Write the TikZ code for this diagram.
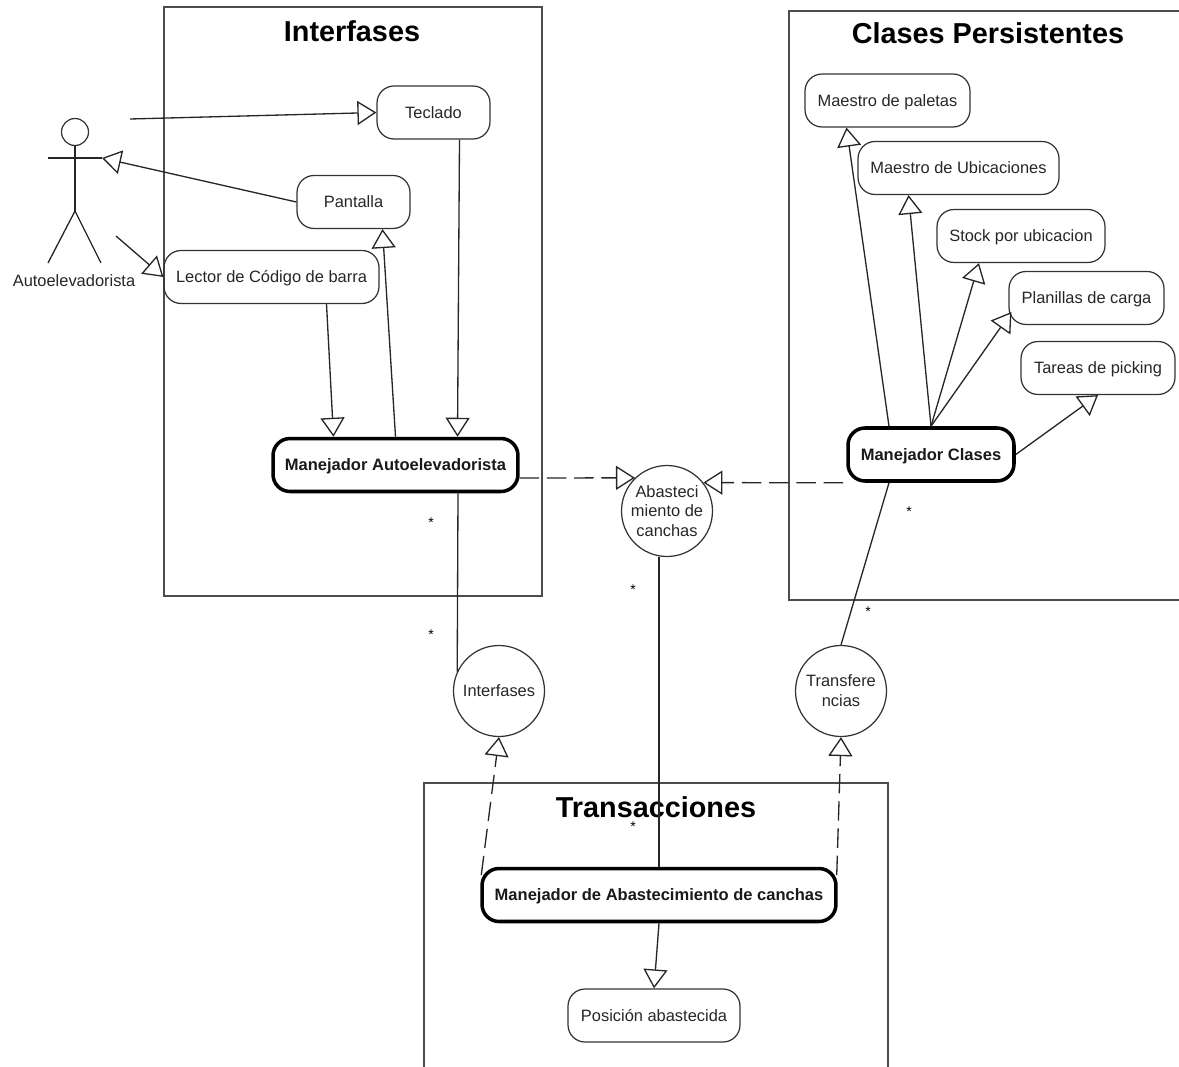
\documentclass[tikz,border=0pt]{standalone}
\usepackage{fontspec}
\setmainfont{Liberation Sans}
\usetikzlibrary{shapes,arrows.meta,positioning,calc}

\tikzset{
  caso/.style={rectangle, draw=black!80, rounded corners=0.34cm, line width=0.7pt, minimum height=1.06cm, inner sep=0pt, text height=6.7pt, text depth=0pt, font=\fontsize{9.35}{11.3}\selectfont, text=black!85},
  manejador/.style={caso, line width=2pt, draw=black, font=\fontsize{9.4}{11}\selectfont\bfseries, text=black!90},
  ciclo/.style={circle, draw=black!80, line width=0.7pt, minimum size=1.82cm, inner sep=0pt, align=center, font=\fontsize{9.35}{11.3}\selectfont, text=black!85},
  titulo/.style={font=\fontsize{16.4}{18}\selectfont\bfseries},
  marco/.style={draw=black!70, line width=1.1pt},
  linea/.style={draw=black!85, line width=0.75pt},
  gen/.style={linea, -{Triangle[length=0.38cm, width=0.48cm, fill=white]}},
  dep/.style={gen, dash pattern=on 11pt off 4.5pt},
  estrella/.style={font=\fontsize{8}{8}\selectfont, inner sep=0pt}
}

\begin{document}
\begin{tikzpicture}[x=0.02cm, y=-0.02cm]
\path[use as bounding box, clip] (0,0) rectangle (1179,1067);

\draw[marco] (164,7) rectangle (542,596);
\draw[marco] (789,11) rectangle (1200,600);
\draw[marco] (424,783) rectangle (888,1100);
\node[titulo] (tInterfases) at (352,31) {Interfases};
\node[titulo] (tClases) at (988,33) {Clases Persistentes};
\node[titulo] (tTrans) at (656,807) {Transacciones};

\node[circle, draw=black!80, line width=0.7pt, minimum size=0.54cm, inner sep=0pt] (cabeza) at (75,132) {};
\coordinate (cadera) at (75,211);
\coordinate (manoI) at (48,158);
\coordinate (manoD) at (102,158);
\coordinate (pieI) at (48,263);
\coordinate (pieD) at (101,263);
\coordinate (actorA) at (130,119);
\coordinate (actorB) at (116,236);
\draw[linea] (cabeza) -- (cadera);
\draw[linea] (manoI) -- (manoD);
\draw[linea] (pieI) -- (cadera) -- (pieD);
\node[font=\fontsize{9.35}{11.3}\selectfont, text=black!85] (actor) at (74,281) {Autoelevadorista};

\node[caso, minimum width=2.26cm] (teclado) at (433.5,112.5) {Teclado};
\node[caso, minimum width=2.26cm] (pantalla) at (353.5,202) {Pantalla};
\node[caso, minimum width=4.3cm] (lector) at (271.5,277) {Lector de Código de barra};
\node[manejador, minimum width=4.9cm] (manAuto) at (395.5,465) {Manejador Autoelevadorista};

\node[caso, minimum width=3.3cm] (paletas) at (887.5,100.5) {Maestro de paletas};
\node[caso, minimum width=4.02cm] (ubicaciones) at (958.5,168) {Maestro de Ubicaciones};
\node[caso, minimum width=3.36cm] (stock) at (1021,236) {Stock por ubicacion};
\node[caso, minimum width=3.1cm] (planillas) at (1086.5,298) {Planillas de carga};
\node[caso, minimum width=3.08cm] (tareas) at (1098,368) {Tareas de picking};
\node[manejador, minimum width=3.32cm] (manClases) at (931,454.5) {Manejador Clases};

\node[manejador, minimum width=7.08cm] (manAbast) at (659,895) {Manejador de Abastecimiento de canchas};
\node[caso, minimum width=3.44cm] (posicion) at (654,1015.5) {Posición abastecida};

\node[ciclo] (abast) at (667,511) {Abasteci\\miento de\\canchas};
\node[ciclo] (cInterfases) at (499,691) {Interfases};
\node[ciclo] (cTransf) at (841,691) {Transfere\\ncias};

\draw[gen] (actorA) -- (teclado.west);
\draw[gen] (pantalla.west) -- (manoD);
\draw[gen] (actorB) -- (lector.west);
\draw[gen] ($(lector.south)+(55,0)$) -- ($(manAuto.north)+(-62,0)$);
\draw[gen] (manAuto.north) -- ($(pantalla.south)+(29,0)$);
\draw[gen] ($(teclado.south)+(26,0)$) -- ($(manAuto.north)+(62,0)$);

\draw[gen] ($(manClases.north)+(-42,0)$) -- ($(paletas.south)+(-41,0)$);
\draw[gen] (manClases.north) -- ($(ubicaciones.south)+(-50,0)$);
\draw[gen] (manClases.north) -- ($(stock.south)+(-42,0)$);
\draw[gen] (manClases.north) -- ($(planillas.west)+(3,14)$);
\draw[gen] (manClases.east) -- (tareas.south);

\draw[dep] ($(manAuto.east)+(0,13)$) -- (abast.134);
\draw[dep] ($(manClases.south)+(-88,0)$) -- (abast.38);
\draw[linea] ($(manAuto.south)+(62.5,0)$) -- (cInterfases.155);
\draw[linea] ($(abast.south)+(-8,0)$) -- (manAbast.north);
\draw[linea] ($(manClases.south)+(-42,0)$) -- (cTransf.north);
\draw[dep] ($(manAbast.west)+(1,-20)$) -- (cInterfases.south);
\draw[dep] ($(manAbast.east)+(-1,-20)$) -- (cTransf.south);
\draw[gen] (manAbast.south) -- (posicion.north);

\node[estrella] (s1) at (431,523) {*};
\node[estrella] (s2) at (431,635) {*};
\node[estrella] (s3) at (633,590) {*};
\node[estrella] (s4) at (633,827) {*};
\node[estrella] (s5) at (909,512) {*};
\node[estrella] (s6) at (868,612) {*};
\end{tikzpicture}
\end{document}
